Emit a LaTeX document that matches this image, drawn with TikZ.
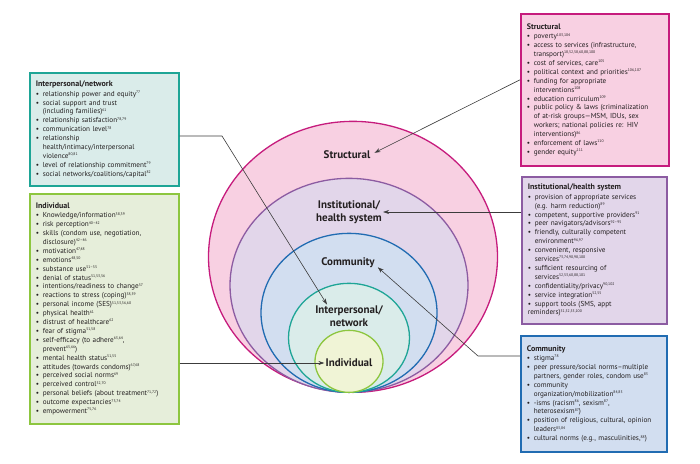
\documentclass[tikz,border=0pt]{standalone}
\usepackage{fontspec}
\setmainfont{PT Sans}
\usetikzlibrary{shapes.geometric, arrows.meta, positioning}
\definecolor{structrim}{RGB}{198,28,125}
\definecolor{structfill}{RGB}{248,208,226}
\definecolor{instrim}{RGB}{140,92,162}
\definecolor{instfill}{RGB}{226,214,234}
\definecolor{commrim}{RGB}{33,108,178}
\definecolor{commfill}{RGB}{210,222,240}
\definecolor{iprim}{RGB}{30,165,150}
\definecolor{ipfill}{RGB}{218,236,234}
\definecolor{indrim}{RGB}{141,198,63}
\definecolor{indfill}{RGB}{240,244,214}
\definecolor{indboxfill}{RGB}{230,238,218}
\definecolor{labeltext}{RGB}{35,31,32}
\definecolor{linkgray}{RGB}{60,60,60}

\newcommand{\bitem}[1]{\par\hangindent=7pt\hangafter=1\noindent\makebox[7pt][l]{\textbullet}#1}
\newcommand{\boxhead}[1]{{\fontsize{8}{9.8}\selectfont\bfseries #1}\par\vspace{0.6pt}}
\newcommand{\rf}[1]{\raisebox{2.6pt}{\fontsize{3.8}{4}\selectfont #1}}

\begin{document}
\begin{tikzpicture}[x=1pt, y=-1pt,
    ring/.style={ellipse, line width=1.3pt, inner sep=0pt, anchor=south},
    ringlabel/.style={font=\fontsize{11}{12.6}\selectfont\bfseries, text=labeltext, align=center, inner sep=1pt},
    factorbox/.style={rectangle, line width=1.6pt, anchor=north west, align=left,
        inner xsep=6pt, inner ysep=4pt, text=labeltext,
        font=\fontsize{7.2}{8.9}\selectfont},
    link/.style={draw=linkgray, line width=0.6pt, -{Stealth[length=6pt,width=4pt]}}]
  \useasboundingbox (0,0) rectangle (700,463);

  % nested rings, outer to inner
  \node[ring, draw=structrim, fill=structfill, minimum width=289pt, minimum height=271pt] (structRing) at (353,393) {};
  \node[ring, draw=instrim, fill=instfill, minimum width=238pt, minimum height=214pt] (instRing) at (349,393) {};
  \node[ring, draw=commrim, fill=commfill, minimum width=176pt, minimum height=159pt] (commRing) at (349,393) {};
  \node[ring, draw=iprim, fill=ipfill, minimum width=121pt, minimum height=109pt] (ipRing) at (349,393) {};
  \node[ring, draw=indrim, fill=indfill, minimum width=68pt, minimum height=62pt] (indRing) at (349,393) {};

  \node[ringlabel] (structLabel) at (347,155) {Structural};
  \node[ringlabel] (instLabel) at (349,212) {Institutional/\\health system};
  \node[ringlabel] (commLabel) at (348,263) {Community};
  \node[ringlabel] (ipLabel) at (349,316) {Interpersonal/\\network};
  \node[ringlabel] (indLabel) at (349,363) {Individual};

  % factor boxes
  \node[factorbox, draw=iprim, fill=ipfill, text width=137pt, minimum height=113pt] (ipBox) at (29,72) {%
    \boxhead{Interpersonal/network}%
    \bitem{relationship power and equity\rf{77}}
    \bitem{social support and trust\newline (including families)\rf{61}}
    \bitem{relationship satisfaction\rf{78,79}}
    \bitem{communication level\rf{78}}
    \bitem{relationship\newline health/intimacy/interpersonal\newline violence\rf{80,81}}
    \bitem{level of relationship commitment\rf{79}}
    \bitem{social networks/coalitions/capital\rf{82}}};

  \node[factorbox, draw=indrim, fill=indboxfill, text width=137pt, minimum height=230pt] (indBox) at (29,193) {%
    \boxhead{Individual}%
    \bitem{Knowledge/information\rf{38,39}}
    \bitem{risk perception\rf{40--42}}
    \bitem{skills (condom use, negotiation,\newline disclosure)\rf{42--46}}
    \bitem{motivation\rf{47,48}}
    \bitem{emotions\rf{48,50}}
    \bitem{substance use\rf{51--55}}
    \bitem{denial of status\rf{51,53,56}}
    \bitem{intentions/readiness to change\rf{57}}
    \bitem{reactions to stress (coping)\rf{58,59}}
    \bitem{personal income (SES)\rf{51,53,56,60}}
    \bitem{physical health\rf{61}}
    \bitem{distrust of healthcare\rf{62}}
    \bitem{fear of stigma\rf{51,58}}
    \bitem{self-efficacy (to adhere\rf{63,64},\newline prevent\rf{65,66})}
    \bitem{mental health status\rf{51,55}}
    \bitem{attitudes (towards condoms)\rf{67,68}}
    \bitem{perceived social norms\rf{69}}
    \bitem{perceived control\rf{52,70}}
    \bitem{personal beliefs (about treatment\rf{71,72})}
    \bitem{outcome expectancies\rf{73,74}}
    \bitem{empowerment\rf{75,76}}};

  \node[factorbox, draw=structrim, fill=structfill, text width=136pt, minimum height=152pt] (structBox) at (520,13) {%
    \boxhead{Structural}%
    \bitem{poverty\rf{103,104}}
    \bitem{access to services (infrastructure,\newline transport)\rf{18,52,58,60,88,100}}
    \bitem{cost of services, care\rf{105}}
    \bitem{political context and priorities\rf{106,107}}
    \bitem{funding for appropriate\newline interventions\rf{108}}
    \bitem{education curriculum\rf{109}}
    \bitem{public policy \& laws (criminalization\newline of at-risk groups---MSM, IDUs, sex\newline workers; national policies re: HIV\newline interventions)\rf{86}}
    \bitem{enforcement of laws\rf{110}}
    \bitem{gender equity\rf{111}}};

  \node[factorbox, draw=instrim, fill=instfill, text width=133pt, minimum height=147pt] (instBox) at (521,176) {%
    \boxhead{Institutional/health system}%
    \bitem{provision of appropriate services\newline (e.g. harm reduction)\rf{89}}
    \bitem{competent, supportive providers\rf{91}}
    \bitem{peer navigators/advisors\rf{92--95}}
    \bitem{friendly, culturally competent\newline environment\rf{96,97}}
    \bitem{convenient, responsive\newline services\rf{73,74,90,98,100}}
    \bitem{sufficient resourcing of\newline services\rf{52,53,60,88,101}}
    \bitem{confidentiality/privacy\rf{90,102}}
    \bitem{service integration\rf{52,55}}
    \bitem{support tools (SMS, appt\newline reminders)\rf{51,52,55,100}}};

  \node[factorbox, draw=commrim, fill=commfill, text width=134pt, minimum height=116pt] (commBox) at (520,335) {%
    \boxhead{Community}%
    \bitem{stigma\rf{78}}
    \bitem{peer pressure/social norms--multiple\newline partners, gender roles, condom use\rf{83}}
    \bitem{community\newline organization/mobilization\rf{84,85}}
    \bitem{-isms (racism\rf{86}, sexism\rf{87},\newline heterosexism\rf{87})}
    \bitem{position of religious, cultural, opinion\newline leaders\rf{83,84}}
    \bitem{cultural norms (e.g., masculinities,\rf{88})}};

  % connectors
  \coordinate (ipBend) at (222,136);
  \coordinate (commBend) at (478,356);
  \draw[link] ([yshift=10pt]structBox.west) -- ([xshift=3pt,yshift=-3pt]structLabel.north east);
  \draw[link] (instLabel -| instBox.west) -- (instLabel.east);
  \draw[link] (commBend -| commBox.west) -- (commBend) -- ([xshift=2pt,yshift=2pt]commLabel.south east);
  \draw[link] (ipBend -| ipBox.east) -- (ipBend) -- ([xshift=-22pt]ipLabel.north);
  \draw[link] (indLabel -| indBox.east) -- (indLabel.west);
\end{tikzpicture}
\end{document}
